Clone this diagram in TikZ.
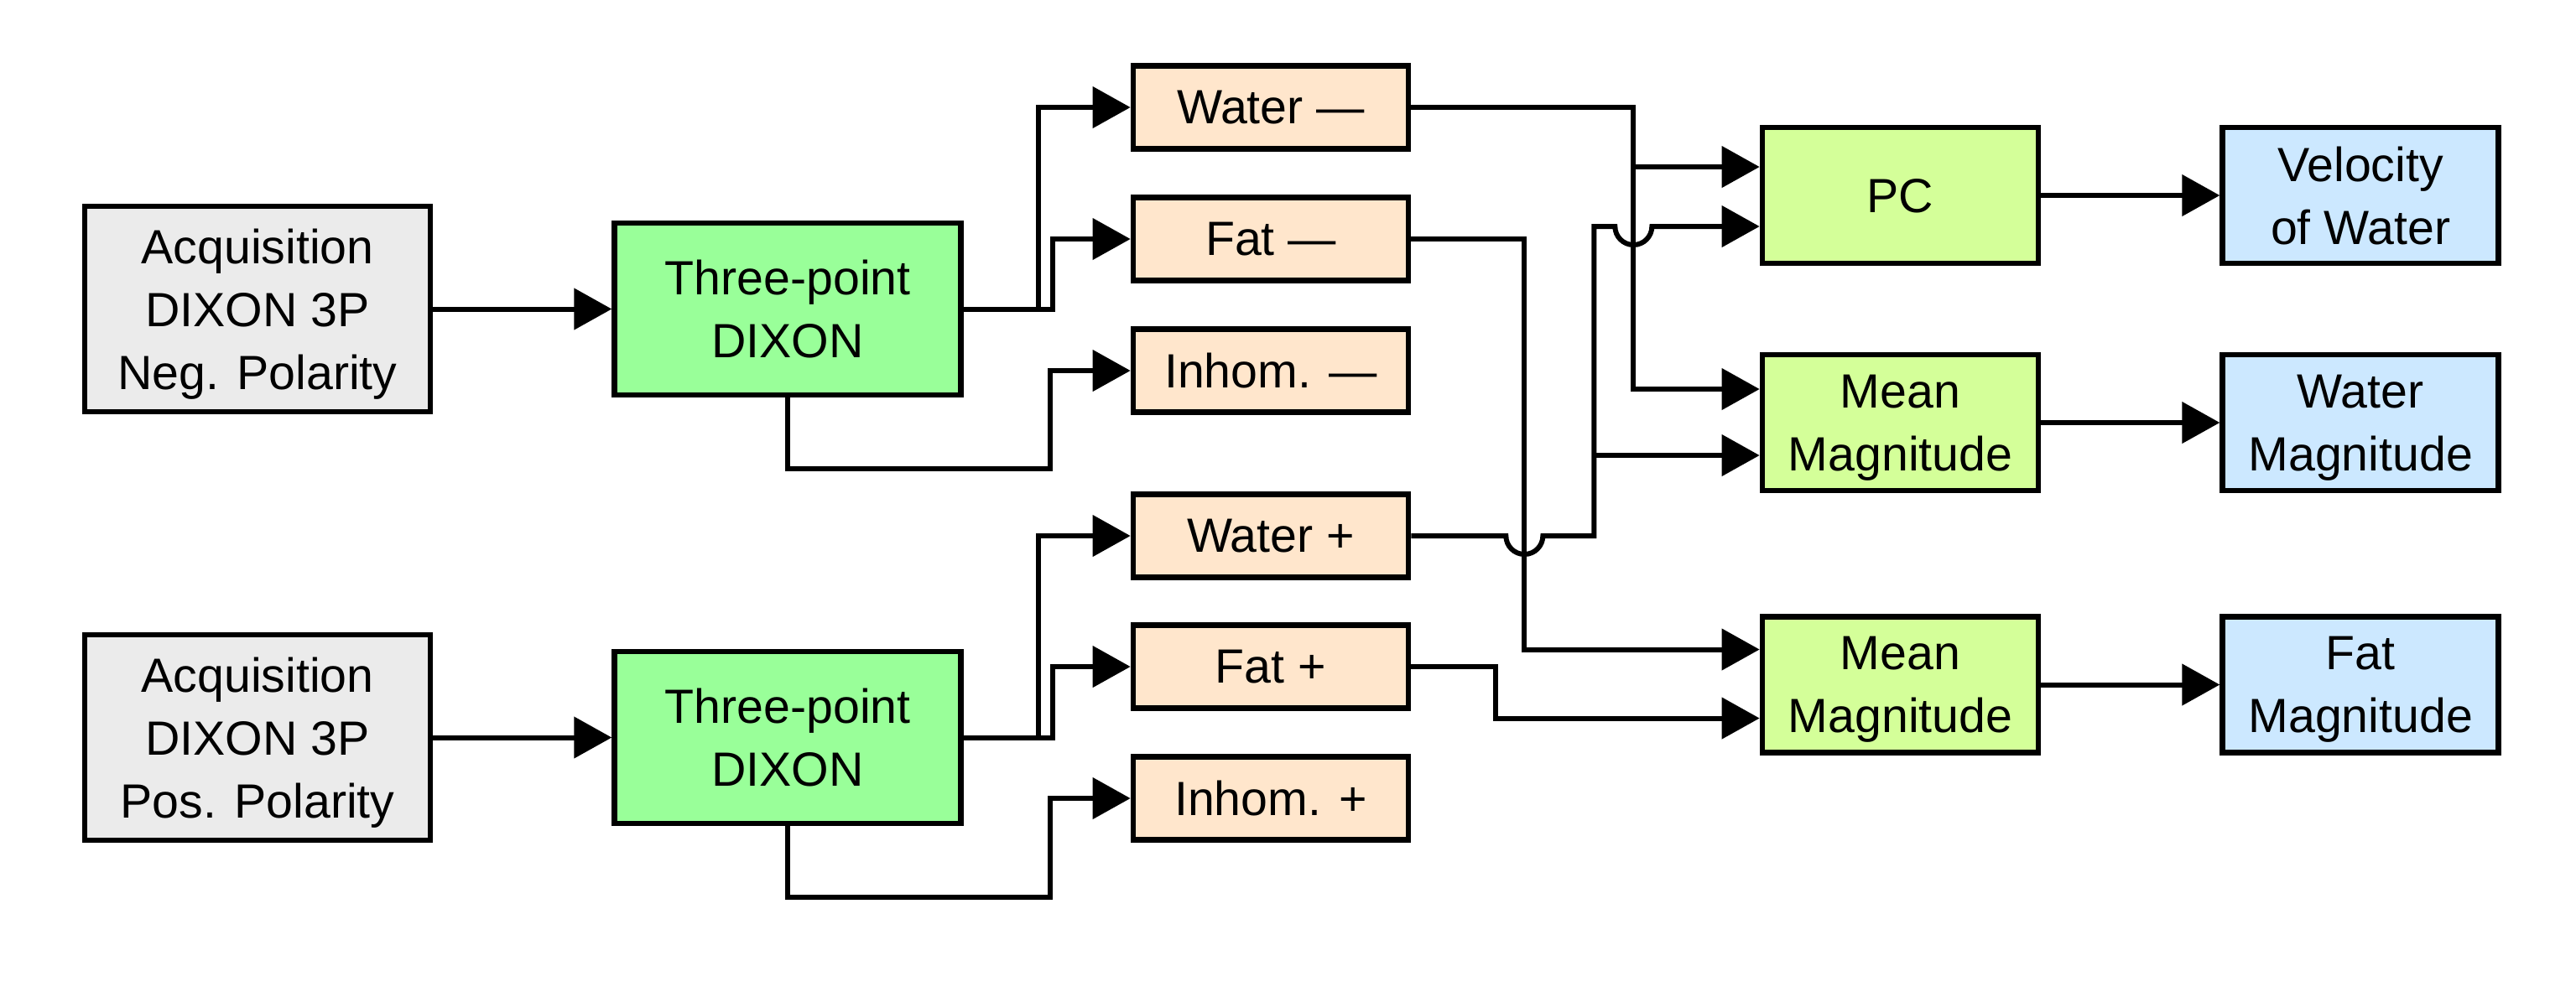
\documentclass[tikz,border=0pt]{standalone}
\usepackage{fontspec}
\setmainfont{Liberation Sans}
\usetikzlibrary{positioning, arrows.meta, calc}

\definecolor{acqgray}{HTML}{EBEBEB}
\definecolor{dixgreen}{HTML}{99FF99}
\definecolor{chanorange}{HTML}{FFE6CC}
\definecolor{combgreen}{HTML}{D4FF99}
\definecolor{resblue}{HTML}{CCE8FF}
\newcommand{\jumpr}{0.22}

\begin{document}
\begin{tikzpicture}[node distance=2.13cm, every node/.style={font=\fontsize{16.3}{21.3}\selectfont, text depth=0pt},
  acquisition/.style={draw, line width=1.9pt, fill=acqgray, minimum width=4.12cm, minimum height=2.45cm, align=center, inner sep=2pt},
  dixon/.style={draw, line width=1.9pt, fill=dixgreen, minimum width=4.13cm, minimum height=2.05cm, align=center, inner sep=2pt},
  channel/.style={draw, line width=1.9pt, fill=chanorange, minimum width=3.28cm, minimum height=0.99cm, align=center, inner sep=2pt},
  combine/.style={draw, line width=1.9pt, fill=combgreen, minimum width=3.29cm, minimum height=1.62cm, align=center, inner sep=2pt},
  result/.style={draw, line width=1.9pt, fill=resblue, minimum width=3.29cm, minimum height=1.62cm, align=center, inner sep=2pt},
  arrow/.style={line width=1.7pt, -{Triangle[length=12.8pt, width=13.8pt]}}
]
\useasboundingbox (0,0) rectangle (30.71,-11.82);

% Acquisition and reconstruction
\node[acquisition] (acqneg) at (3.07,-3.685) {Acquisition\\DIXON 3P\\Neg. Polarity};
\node[dixon, right=of acqneg] (dixneg) {Three-point\\DIXON};
\node[acquisition] (acqpos) at (3.07,-8.795) {Acquisition\\DIXON 3P\\Pos. Polarity};
\node[dixon, right=of acqpos] (dixpos) {Three-point\\DIXON};

% Separated channels
\node[channel] (waterneg) at (15.15,-1.28) {Water —};
\node[channel] (fatneg) at (15.15,-2.85) {Fat —};
\node[channel] (inhomneg) at (15.15,-4.42) {Inhom. —};
\node[channel] (waterpos) at (15.15,-6.39) {Water +};
\node[channel] (fatpos) at (15.15,-7.95) {Fat +};
\node[channel] (inhompos) at (15.15,-9.52) {Inhom. +};

% Combination and results
\node[combine] (pc) at (22.655,-2.33) {PC};
\node[result, right=of pc] (velocity) {Velocity\\of Water};
\node[combine] (mmwater) at (22.655,-5.04) {Mean\\Magnitude};
\node[result, right=of mmwater] (watermag) {Water\\Magnitude};
\node[combine] (mmfat) at (22.655,-8.165) {Mean\\Magnitude};
\node[result, right=of mmfat] (fatmag) {Fat\\Magnitude};

% Inputs and bends
\coordinate (pcup) at ($(pc.west)+(0,0.34)$);
\coordinate (pclow) at ($(pc.west)+(0,-0.37)$);
\coordinate (mwup) at ($(mmwater.west)+(0,0.40)$);
\coordinate (mwlow) at ($(mmwater.west)+(0,-0.39)$);
\coordinate (mfup) at ($(mmfat.west)+(0,0.42)$);
\coordinate (mflow) at ($(mmfat.west)+(0,-0.40)$);
\coordinate (wnbend) at ($(waterneg.east)+(2.65,0)$);
\coordinate (fnbend) at ($(fatneg.east)+(1.35,0)$);
\coordinate (wpbend) at ($(waterpos.east)+(2.18,0)$);
\coordinate (fpbend) at ($(fatpos.east)+(1.01,0)$);

% Arrows
\draw[arrow] (acqneg) -- (dixneg);
\draw[arrow] (acqpos) -- (dixpos);
\draw[arrow] (dixneg.east) -- ++(0.89,0) |- (waterneg);
\draw[arrow] (dixneg.east) -- ++(1.06,0) |- (fatneg);
\draw[arrow] (dixneg.south) |- ++(3.125,-0.85) |- (inhomneg);
\draw[arrow] (dixpos.east) -- ++(0.89,0) |- (waterpos);
\draw[arrow] (dixpos.east) -- ++(1.06,0) |- (fatpos);
\draw[arrow] (dixpos.south) |- ++(3.125,-0.85) |- (inhompos);

\draw[arrow] (waterneg.east) -- (wnbend) |- (pcup);
\draw[arrow] (wnbend) |- (mwup);
\draw[arrow] (fatneg.east) -- (fnbend) |- (mfup);
\draw[arrow] (waterpos.east) -- ($(fnbend |- waterpos.east)+(-\jumpr,0)$)
  arc[start angle=180, end angle=360, radius=\jumpr] -- (wpbend)
  |- ($(wnbend |- pclow)+(-\jumpr,0)$)
  arc[start angle=180, end angle=360, radius=\jumpr] -- (pclow);
\draw[arrow] (wpbend |- mwlow) -- (mwlow);
\draw[arrow] (fatpos.east) -- (fpbend) |- (mflow);

\draw[arrow] (pc) -- (velocity);
\draw[arrow] (mmwater) -- (watermag);
\draw[arrow] (mmfat) -- (fatmag);

\end{tikzpicture}
\end{document}
